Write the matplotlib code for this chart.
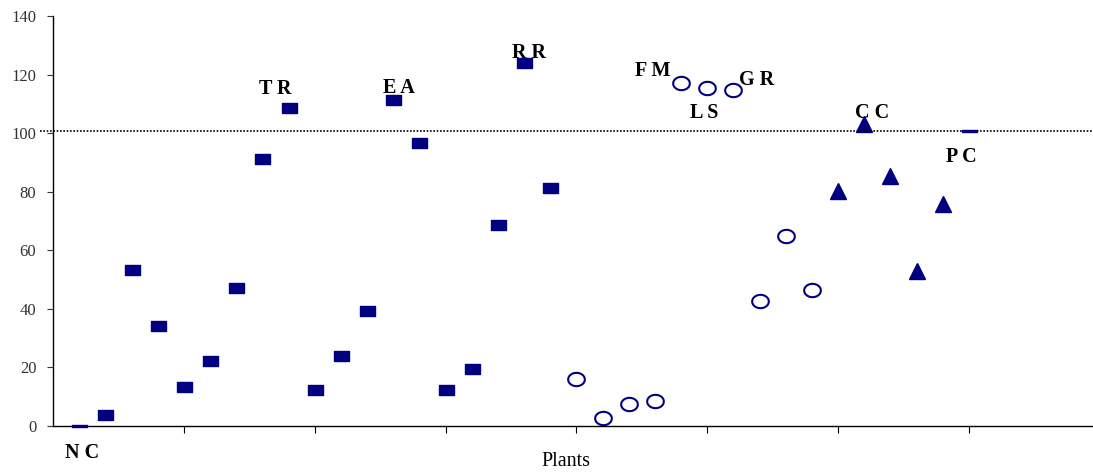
import numpy as np
import matplotlib.pyplot as plt
from matplotlib.path import Path

# valeurs
sq_x = [2, 3, 4, 5, 6, 7, 8, 9, 10, 11, 12, 13, 14, 15, 16, 17, 18, 19]
sq_y = [3.8, 53.3, 34.1, 13.3, 22.2, 47.1, 91.2, 108.6, 12.3, 23.9, 39.3,
        111.3, 96.6, 12.3, 19.5, 68.6, 124.0, 81.3]
ci_x = [20, 21, 22, 23, 24, 25, 26, 27, 28, 29]
ci_y = [16.0, 2.7, 7.5, 8.5, 117.1, 115.4, 114.7, 42.7, 64.9, 46.4]
tr_x = [30, 31, 32, 33, 34]
tr_y = [80.2, 103.1, 85.4, 52.9, 75.8]
dash_x = [1, 35]
dash_y = [0.0, 100.7]
ref_level = 100.7

lab_txt = ['N C', 'T R', 'E A', 'R R', 'F M', 'L S', 'G R', 'C C', 'P C']
lab_x = [1.1, 8.5, 13.2, 18.2, 22.9, 24.9, 26.9, 31.3, 34.7]
lab_y = [-9.2, 115.0, 115.5, 127.5, 121.3, 107.0, 118.0, 107.0, 91.8]

navy = '#000080'
rect = Path([(-1, -0.73), (1, -0.73), (1, 0.73), (-1, 0.73), (-1, -0.73)],
            [Path.MOVETO, Path.LINETO, Path.LINETO, Path.LINETO, Path.CLOSEPOLY])
thin = Path([(-1, -0.17), (1, -0.17), (1, 0.17), (-1, 0.17), (-1, -0.17)],
            [Path.MOVETO, Path.LINETO, Path.LINETO, Path.LINETO, Path.CLOSEPOLY])
t = np.linspace(0, 2*np.pi, 60)
ell = Path(np.column_stack([np.cos(t), 0.8*np.sin(t)]))

plt.rcParams['font.family'] = 'Liberation Serif'

fig = plt.figure(figsize=(10.93, 4.72), dpi=100)
ax = fig.add_axes([53/1093, 46/472, 1 - 53/1093, 410/472])

ax.plot(sq_x, sq_y, ls='none', marker=rect, ms=10.8, color=navy, mec=navy)
ax.plot(ci_x, ci_y, ls='none', marker=ell, ms=12, mfc='none', mec=navy, mew=1.5)
ax.plot(tr_x, tr_y, ls='none', marker='^', ms=12, color=navy)
ax.plot(dash_x, dash_y, ls='none', marker=thin, ms=10.8, color=navy, clip_on=False, zorder=4)

ax.plot([-0.5, 39.74], [ref_level, ref_level], color='black', lw=1.2,
        ls=(0, (1, 1)), clip_on=False, zorder=3)

for s, x, y in zip(lab_txt, lab_x, lab_y):
    ax.text(x, y, s, ha='center', va='center', fontsize=14.5, fontweight='bold',
            clip_on=False)

ax.set_xlim(0, 39.74)
ax.set_ylim(0, 140)
ax.set_xticks([5, 10, 15, 20, 25, 30, 35])
ax.set_xticklabels([])
ax.set_yticks(np.arange(0, 141, 20))
ax.tick_params(axis='y', labelsize=12, length=4, width=0.8, pad=8, colors='#333333')
ax.tick_params(axis='x', length=5, width=0.8)
for sp in ['top', 'right']:
    ax.spines[sp].set_visible(False)
ax.spines['left'].set_linewidth(1)
ax.spines['bottom'].set_linewidth(1)

fig.text(566/1093, 1 - 462/472, 'Plants', ha='center', va='center', fontsize=14.5)

fig.savefig('out.png', dpi=100)
